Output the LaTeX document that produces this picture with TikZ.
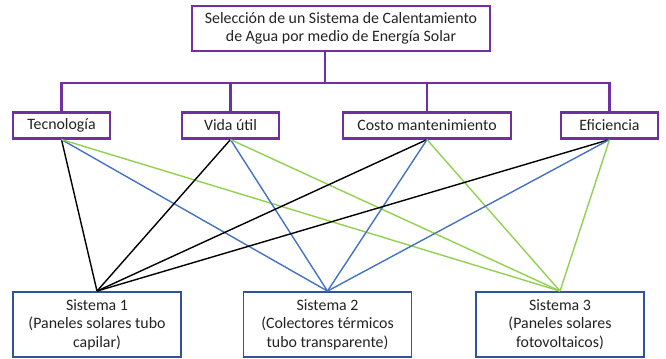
\documentclass[tikz,border=0pt]{standalone}
\usepackage{fontspec}
\setmainfont{Carlito}
\usepackage{tikz}
\definecolor{morado}{RGB}{112,48,160}
\definecolor{azulcaja}{RGB}{47,85,151}
\definecolor{azul}{RGB}{68,114,196}
\definecolor{verde}{RGB}{146,208,80}
\definecolor{texto}{RGB}{35,35,35}

\begin{document}
\begin{tikzpicture}[x=0.75pt,y=-0.75pt,
    every node/.style={font=\fontsize{11.9}{14}\selectfont,text=texto,align=center,inner sep=0pt},
    goal/.style={draw=morado,line width=1.6pt,minimum height=34pt},
    crit/.style={draw=morado,line width=1.6pt,minimum height=19.5pt},
    alt/.style={draw=azulcaja,line width=1.4pt,minimum width=126pt,minimum height=48.75pt},
    tree/.style={draw=morado,line width=1.6pt},
    link/.style={line width=1.05pt}]
  \useasboundingbox (0,0) rectangle (666,358);
  \node[goal,minimum width=223.5pt] (top) at (341,28.3) {Selección de un Sistema de Calentamiento\\de Agua por medio de Energía Solar};
  \node[crit,minimum width=72.75pt] (tec) at (61.5,125.5) {Tecnología};
  \node[crit,minimum width=72.75pt] (vida) at (230.5,125.5) {Vida útil};
  \node[crit,minimum width=126pt] (costo) at (427,125.5) {Costo mantenimiento};
  \node[crit,minimum width=72.75pt] (efi) at (609.5,125.5) {Eficiencia};
  \node[alt] (s1) at (97,324.5) {Sistema 1\\(Paneles solares tubo\\capilar)};
  \node[alt] (s2) at (327.5,324.5) {Sistema 2\\(Colectores térmicos\\tubo transparente)};
  \node[alt] (s3) at (560,324.5) {Sistema 3\\(Paneles solares\\fotovoltaicos)};
  \coordinate (bus) at (325,83);
  \draw[tree] (bus) -- (top.south -| bus);
  \foreach \c in {tec,vida,costo,efi}
    \draw[tree] (\c.north) |- (bus);
  \foreach \c in {tec,vida,costo,efi} {
    \draw[link,black] (\c.south) -- (s1.north);
    \draw[link,azul] (\c.south) -- (s2.north);
    \draw[link,verde] (\c.south) -- (s3.north);
  }
\end{tikzpicture}
\end{document}
